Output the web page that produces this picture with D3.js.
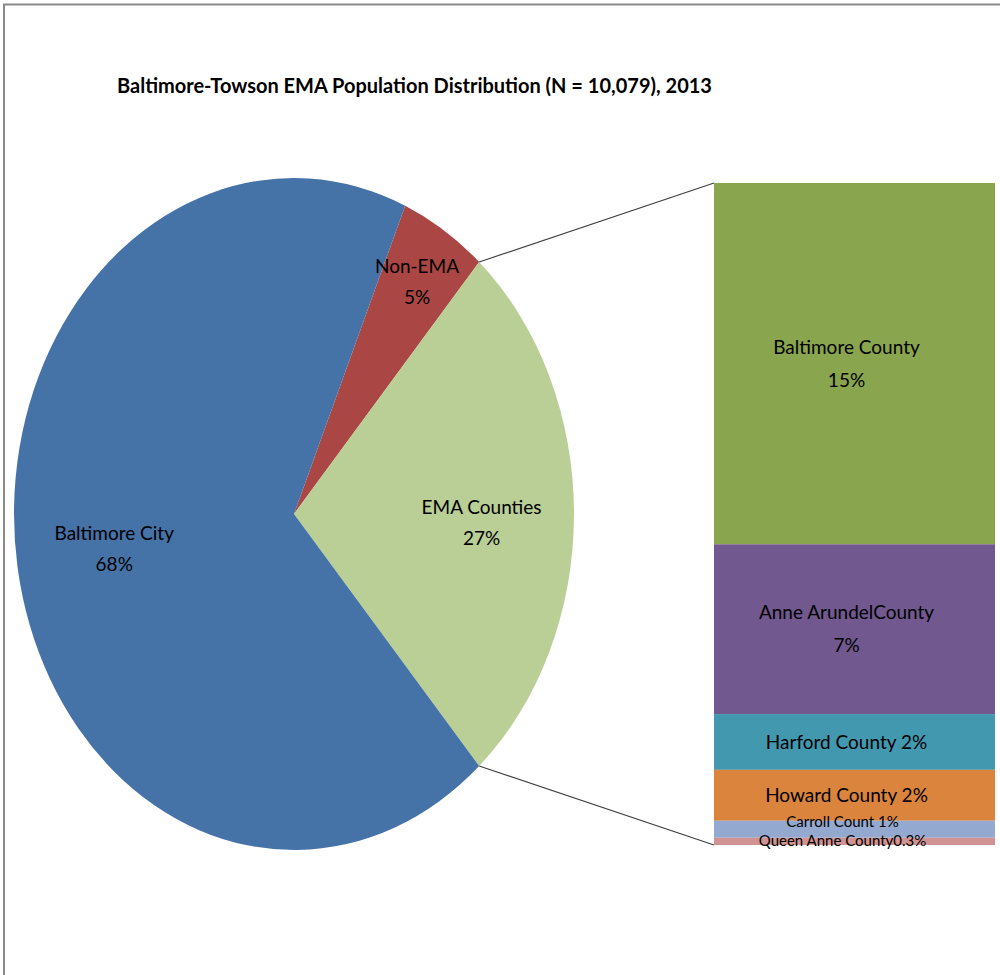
<!DOCTYPE html>
<html>
<head>
<meta charset="utf-8">
<script src="https://cdn.jsdelivr.net/npm/d3@7"></script>
<style>
  html, body { margin: 0; padding: 0; background: #fff; }
  svg { display: block; }
  text { font-family: Lato, "Open Sans", sans-serif; fill: #000; }
</style>
</head>
<body>
<svg id="chart" width="1000" height="975"></svg>
<script>
// ---- data ----
const title = "Baltimore-Towson EMA Population Distribution (N = 10,079), 2013";
const pieCategories = ["Non-EMA", "EMA Counties", "Baltimore City"];
const pieValues = [5, 27, 68];
const pieLabels = ["5%", "27%", "68%"];
const pieColors = ["#AA4643", "#B9CF96", "#4572A7"];

const barCategories = ["Baltimore County", "Anne ArundelCounty", "Harford County", "Howard County", "Carroll Count", "Queen Anne County"];
const barValues = [14.9, 7.0, 2.3, 2.1, 0.7, 0.3];
const barLabels = ["15%", "7%", "2%", "2%", "1%", "0.3%"];
const barColors = ["#89A54E", "#71588F", "#4198AF", "#DB843D", "#93A9CF", "#D19392"];

// ---- layout ----
const svg = d3.select("#chart");
const cx = 294, cy = 514, rx = 280, ry = 336;
const bar = {x0: 714, x1: 995, y0: 183, y1: 845};

// frame
svg.append("path")
  .attr("d", "M4,975 V4.5 H1000")
  .attr("fill", "none").attr("stroke", "#8a8a8a").attr("stroke-width", 2);

// title
svg.append("text")
  .attr("x", 117).attr("y", 93)
  .attr("font-size", 20).attr("font-weight", 700)
  .text(title);

// pie
const total = d3.sum(pieValues);
const emaIdx = 1;
const start = Math.PI / 2 - (pieValues[emaIdx] / total) * Math.PI - (pieValues[0] / total) * 2 * Math.PI;
const pie = d3.pie().sort(null).startAngle(start).endAngle(start + 2 * Math.PI);
const arcs = pie(pieValues);
const arc = d3.arc().innerRadius(0).outerRadius(rx);

const gPie = svg.append("g").attr("transform", `translate(${cx},${cy}) scale(1,${ry / rx})`);
gPie.selectAll("path").data(arcs).enter().append("path")
  .attr("d", arc)
  .attr("fill", (d, i) => pieColors[i]);

// pie labels
const labelFrac = [0.82, 0.67, 0.65];
const labelDy = [0, 8, 0];
arcs.forEach((d, i) => {
  const a = (d.startAngle + d.endAngle) / 2;
  const x = cx + labelFrac[i] * rx * Math.sin(a);
  const y = cy - labelFrac[i] * ry * Math.cos(a) + labelDy[i];
  const t = svg.append("text").attr("text-anchor", "middle").attr("font-size", 19);
  t.append("tspan").attr("x", x).attr("y", y - 8).text(pieCategories[i]);
  t.append("tspan").attr("x", x).attr("y", y + 23).text(pieLabels[i]);
});

// connector lines
const emaArc = arcs[emaIdx];
const pt = (a) => [cx + rx * Math.sin(a), cy - ry * Math.cos(a)];
const pTop = pt(emaArc.startAngle), pBot = pt(emaArc.endAngle);
svg.append("line").attr("x1", pTop[0]).attr("y1", pTop[1]).attr("x2", bar.x0).attr("y2", bar.y0)
  .attr("stroke", "#404040").attr("stroke-width", 1.2);
svg.append("line").attr("x1", pBot[0]).attr("y1", pBot[1]).attr("x2", bar.x0).attr("y2", bar.y1)
  .attr("stroke", "#404040").attr("stroke-width", 1.2);

// stacked bar
const barTotal = d3.sum(barValues);
const y = d3.scaleLinear().domain([0, barTotal]).range([bar.y0, bar.y1]);
const cum = d3.cumsum(barValues);
const segs = barValues.map((v, i) => ({v, i, a: cum[i] - v, b: cum[i]}));
svg.append("g").selectAll("rect").data(segs).enter().append("rect")
  .attr("x", bar.x0).attr("width", bar.x1 - bar.x0)
  .attr("y", d => y(d.a)).attr("height", d => y(d.b) - y(d.a))
  .attr("fill", d => barColors[d.i]);

// bar labels
const bx = (bar.x0 + bar.x1) / 2 - 8;
segs.forEach(d => {
  const mid = (y(d.a) + y(d.b)) / 2;
  if (d.i < 2) {
    const t = svg.append("text").attr("text-anchor", "middle").attr("font-size", 19);
    t.append("tspan").attr("x", bx).attr("y", mid - 10).text(barCategories[d.i]);
    t.append("tspan").attr("x", bx).attr("y", mid + 23).text(barLabels[d.i]);
  } else if (d.i < 4) {
    svg.append("text").attr("text-anchor", "middle").attr("font-size", 19)
      .attr("x", bx).attr("y", mid + 7)
      .text(barCategories[d.i] + " " + barLabels[d.i]);
  } else {
    const off = d.i === 4 ? -2 : 5;
    svg.append("text").attr("text-anchor", "middle").attr("font-size", 15)
      .attr("x", bx - 4).attr("y", mid + off)
      .text(barCategories[d.i] + (d.i === 4 ? " " : "") + barLabels[d.i]);
  }
});
</script>
</body>
</html>
